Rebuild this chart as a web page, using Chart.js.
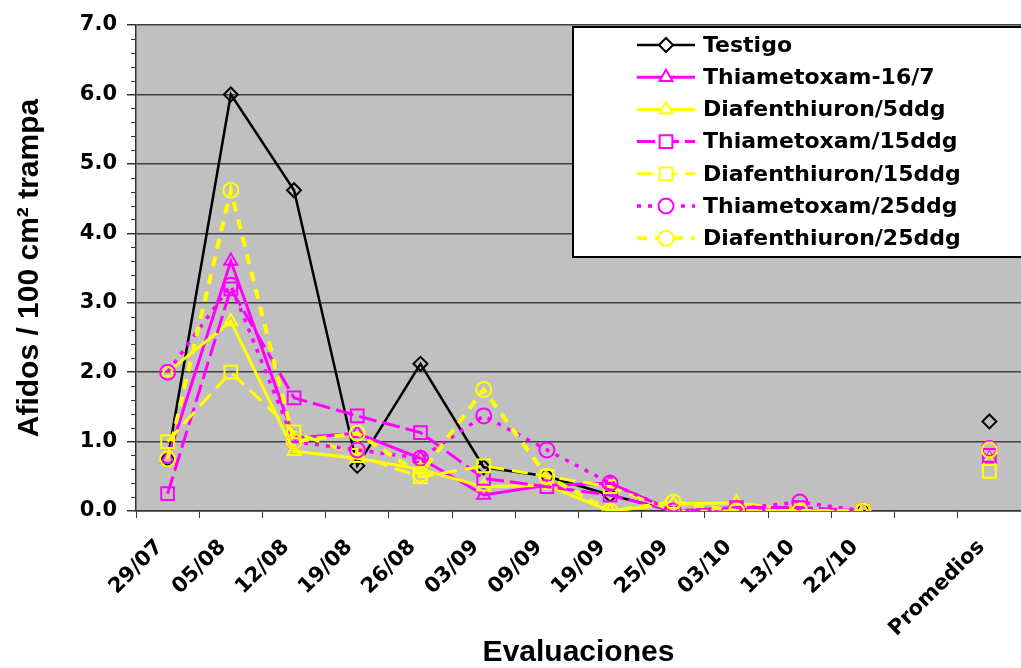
<!DOCTYPE html>
<html>
<head>
<meta charset="utf-8">
<script src="https://cdn.jsdelivr.net/npm/chart.js@4.4.1/dist/chart.umd.min.js"></script>
<style>
  html, body { margin: 0; padding: 0; background: #fff; overflow: hidden; }
  #wrap { width: 1032px; height: 668px; }
</style>
</head>
<body>
<div id="wrap"><canvas id="grafico" width="1032" height="668"></canvas></div>
<script>
// categorias del eje X (la penultima va vacia, separa los promedios)
const categorias = ['29/07', '05/08', '12/08', '19/08', '26/08', '03/09', '09/09',
                    '19/09', '25/09', '03/10', '13/10', '22/10', '', 'Promedios'];

const nombres = ['Testigo', 'Thiametoxam-16/7', 'Diafenthiuron/5ddg', 'Thiametoxam/15ddg',
                 'Diafenthiuron/15ddg', 'Thiametoxam/25ddg', 'Diafenthiuron/25ddg'];

const testigo      = [0.75, 6.00, 4.62, 0.65, 2.12, 0.63, 0.50, 0.23, 0.00, 0.00, 0.00, 0.00, null, 1.29];
const thiam16_7    = [0.75, 3.60, 1.05, 1.12, 0.76, 0.23, 0.37, 0.40, 0.00, 0.03, 0.00, 0.00, null, 0.75];
const diaf5ddg     = [2.00, 2.73, 0.86, 0.76, 0.60, 0.35, 0.37, 0.00, 0.10, 0.12, 0.00, 0.00, null, 0.72];
const thiam15ddg   = [0.25, 3.20, 1.63, 1.37, 1.13, 0.47, 0.35, 0.23, 0.00, 0.05, 0.05, 0.00, null, 0.80];
const diaf15ddg    = [1.00, 2.00, 1.14, 0.80, 0.49, 0.65, 0.50, 0.35, 0.00, 0.00, 0.00, 0.00, null, 0.57];
const thiam25ddg   = [2.00, 3.25, 1.00, 0.88, 0.76, 1.37, 0.88, 0.40, 0.00, 0.03, 0.13, 0.00, null, 0.90];
const diaf25ddg    = [0.75, 4.62, 1.00, 1.12, 0.53, 1.75, 0.50, 0.00, 0.13, 0.00, 0.00, 0.00, null, 0.88];

const series = [testigo, thiam16_7, diaf5ddg, thiam15ddg, diaf15ddg, thiam25ddg, diaf25ddg];

const MAGENTA = '#ff00ff';
const AMARILLO = '#ffff00';

// estilo de cada serie: color, marcador, trazo
const estilos = [
  { color: '#000000', punto: 'rectRot',  radio: 7,   ancho: 2.5, dash: [] },
  { color: MAGENTA,   punto: 'triangle', radio: 7.5, ancho: 3,   dash: [] },
  { color: AMARILLO,  punto: 'triangle', radio: 7.5, ancho: 3,   dash: [] },
  { color: MAGENTA,   punto: 'rect',     radio: 9,   ancho: 3,   dash: [18, 6] },
  { color: AMARILLO,  punto: 'rect',     radio: 9,   ancho: 3,   dash: [16, 8] },
  { color: MAGENTA,   punto: 'circle',   radio: 7.5, ancho: 3.5, dash: [4, 7] },
  { color: AMARILLO,  punto: 'circle',   radio: 7.5, ancho: 4,   dash: [10, 8] },
];

const FUENTE = "'DejaVu Sans', sans-serif";
const FUENTE_TIT = "'Liberation Sans', Arial, sans-serif";

const esEntero = v => Math.abs(v - Math.round(v)) < 1e-6;

const fondoPlot = {
  id: 'fondoPlot',
  beforeDraw(chart) {
    const { ctx, chartArea: a } = chart;
    ctx.save();
    ctx.fillStyle = '#fff';
    ctx.fillRect(0, 0, chart.width, chart.height);
    ctx.fillStyle = '#c0c0c0';
    ctx.fillRect(a.left, a.top, a.right - a.left, a.bottom - a.top);
    ctx.restore();
  }
};

// marcas menores del eje Y (cada 0.2)
const ticksMenores = {
  id: 'ticksMenores',
  afterDraw(chart) {
    const y = chart.scales.y;
    const ctx = chart.ctx;
    ctx.save();
    ctx.strokeStyle = '#333';
    ctx.lineWidth = 1;
    y.ticks.forEach(t => {
      if (esEntero(t.value)) return;
      const py = Math.round(y.getPixelForValue(t.value)) + 0.5;
      ctx.beginPath();
      ctx.moveTo(y.right - 5, py);
      ctx.lineTo(y.right, py);
      ctx.stroke();
    });
    ctx.restore();
  }
};

// leyenda en caja blanca, arriba a la derecha
const leyenda = {
  id: 'leyenda',
  afterDraw(chart) {
    const ctx = chart.ctx;
    const caja = { x: 573, y: 27, w: 470, h: 230 };
    ctx.save();
    ctx.fillStyle = '#fff';
    ctx.fillRect(caja.x, caja.y, caja.w, caja.h);
    ctx.strokeStyle = '#000';
    ctx.lineWidth = 2;
    ctx.strokeRect(caja.x, caja.y, caja.w, caja.h);

    chart.data.datasets.forEach((ds, i) => {
      const yy = 45 + i * 32.2;
      ctx.strokeStyle = ds.borderColor;
      ctx.lineWidth = ds.borderWidth;
      ctx.setLineDash(ds.borderDash || []);
      ctx.beginPath();
      ctx.moveTo(637, yy);
      ctx.lineTo(695, yy);
      ctx.stroke();
      ctx.setLineDash([]);
      ctx.fillStyle = '#fff';
      ctx.lineWidth = ds.pointBorderWidth;
      Chart.helpers.drawPoint(ctx, {
        pointStyle: ds.pointStyle, radius: ds.pointRadius, rotation: 0, borderWidth: ds.pointBorderWidth
      }, 666, yy);
      ctx.fillStyle = '#000';
      ctx.font = 'bold 22px ' + FUENTE;
      ctx.textBaseline = 'middle';
      ctx.textAlign = 'left';
      ctx.fillText(ds.label, 703, yy + 1);
    });
    ctx.restore();
  }
};

const datasets = series.map((datos, i) => {
  const e = estilos[i];
  return {
    label: nombres[i],
    data: datos,
    borderColor: e.color,
    borderWidth: e.ancho,
    borderDash: e.dash,
    pointStyle: e.punto,
    pointRadius: e.radio,
    pointBorderWidth: 2,
    pointBorderColor: e.color,
    pointBackgroundColor: 'rgba(0,0,0,0)',
    tension: 0,
    spanGaps: false,
    order: series.length - i,
  };
});

new Chart(document.getElementById('grafico'), {
  type: 'line',
  data: { labels: categorias, datasets },
  options: {
    responsive: false,
    devicePixelRatio: 1,
    animation: false,
    events: [],
    layout: { padding: { top: 25, right: 2, left: 0, bottom: 0 } },
    plugins: {
      legend: { display: false },
      tooltip: { enabled: false },
    },
    scales: {
      x: {
        type: 'category',
        offset: true,
        afterFit: s => { s.height = 157; },
        grid: {
          offset: true,
          drawOnChartArea: false,
          tickLength: 7,
          tickColor: '#333',
          lineWidth: 1,
        },
        border: { color: '#333', width: 1.5 },
        ticks: {
          autoSkip: false,
          maxRotation: 45,
          minRotation: 45,
          padding: 17,
          labelOffset: -8,
          color: '#000',
          font: { family: FUENTE, weight: 'bold', size: 21 },
        },
        title: {
          display: true,
          text: 'Evaluaciones',
          color: '#000',
          font: { family: FUENTE_TIT, weight: 'bold', size: 30, lineHeight: 1 },
          padding: { top: 0, bottom: 0 },
        },
      },
      y: {
        min: 0,
        max: 7,
        afterFit: s => { s.width = 136; },
        grid: {
          color: c => esEntero(c.tick.value) ? '#404040' : 'rgba(0,0,0,0)',
          tickColor: c => esEntero(c.tick.value) ? '#333' : 'rgba(0,0,0,0)',
          lineWidth: 1.5,
          tickLength: 9,
        },
        border: { color: '#333', width: 1.5 },
        ticks: {
          stepSize: 0.2,
          autoSkip: false,
          padding: 10,
          color: '#000',
          font: { family: FUENTE, weight: 'bold', size: 21 },
          callback: v => esEntero(v) ? Number(v).toFixed(1) : '',
        },
        title: {
          display: true,
          text: 'Afidos / 100 cm² trampa',
          color: '#000',
          font: { family: FUENTE_TIT, weight: 'bold', size: 30, lineHeight: 1 },
          padding: { top: 15, bottom: 0 },
        },
      },
    },
  },
  plugins: [fondoPlot, ticksMenores, leyenda],
});
</script>
</body>
</html>
